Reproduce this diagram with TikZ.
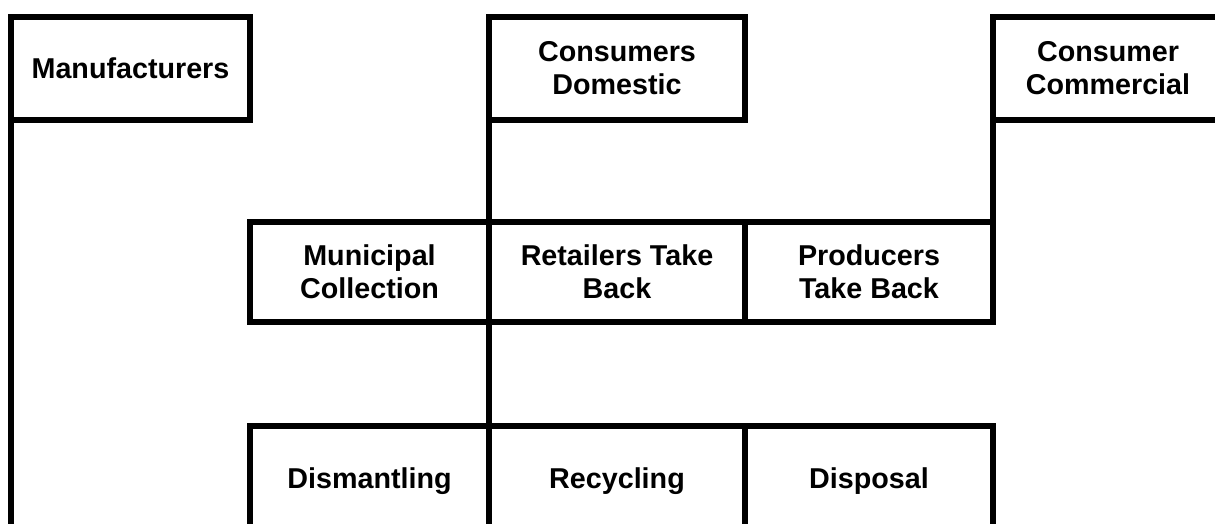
\documentclass[tikz,border=0pt]{standalone}
\usepackage{fontspec}
\setmainfont{Liberation Sans}

\begin{document}
\begin{tikzpicture}[x=1pt,y=-1pt,
	box/.style={draw, rectangle, line width=6pt, outer sep=0pt, inner sep=0pt, align=center, font=\fontsize{28.7}{33}\selectfont\bfseries},
	link/.style={line width=6pt}]
	
	\useasboundingbox (0,0) rectangle (1215,523);
	\clip (0,0) rectangle (1215,523);
	
	%top level
	\node[box, minimum width=239pt, minimum height=103pt] (manuf) at (130.5,68.5){Manufacturers};
	\node[box, minimum width=256pt, minimum height=103pt] (dom) at (617,68.5){Consumers\\Domestic};
	\node[box, minimum width=230pt, minimum height=103pt] (com) at (1108,68.5){Consumer\\Commercial};
	
	%collection level
	\node[box, minimum width=239pt, minimum height=100pt] (mun) at (369.5,272){Municipal\\Collection};
	\node[box, minimum width=256pt, minimum height=100pt] (ret) at (617,272){Retailers Take\\Back};
	\node[box, minimum width=248pt, minimum height=100pt] (prod) at (869,272){Producers\\Take Back};
	
	%treatment level
	\node[box, minimum width=239pt, minimum height=110pt] (dis) at (369.5,481){Dismantling};
	\node[box, minimum width=256pt, minimum height=110pt] (rec) at (617,481){Recycling};
	\node[box, minimum width=248pt, minimum height=110pt] (dsp) at (869,481){Disposal};
	
	\coordinate (mend) at (11,540);
	
	\draw[link] (manuf.south west) -- (mend);
	\draw[link] (dom.south west) -- (ret.north west);
	\draw[link] (com.south west) -- (prod.north east);
	\draw[link] (ret.south west) -- (rec.north west);
	
\end{tikzpicture}
\end{document}
